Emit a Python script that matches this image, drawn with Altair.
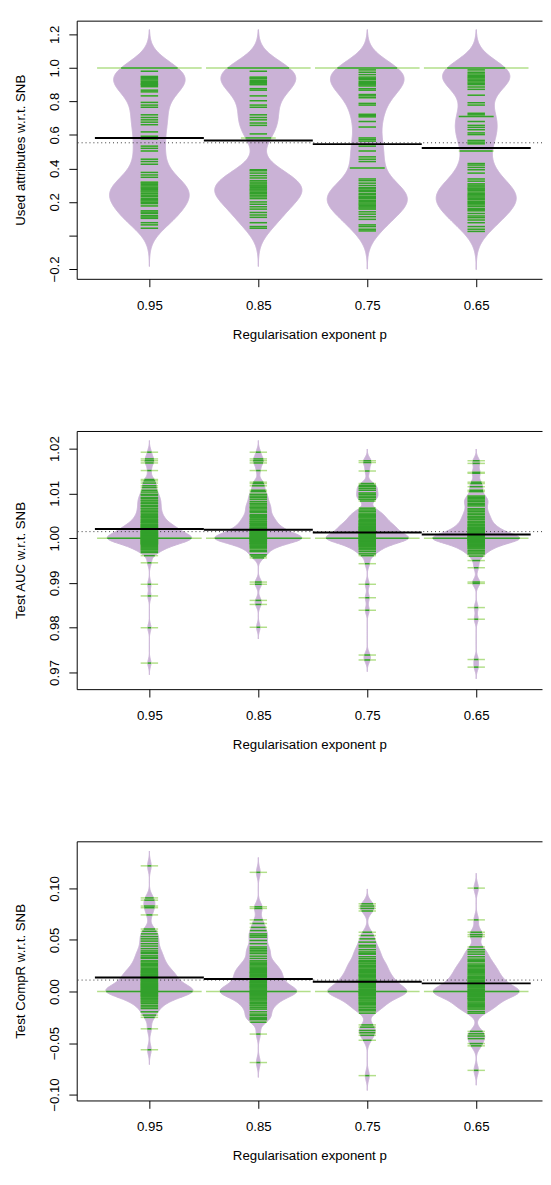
import json
import numpy as np
import pandas as pd
import altair as alt

# ---------------- data ----------------
groups = ["0.95", "0.85", "0.75", "0.65"]
x_title = "Regularisation exponent p"

# Panel 1: used attributes w.r.t. SNB
used_095 = [1.0, 1.0, 1.0, 1.0, 1.0, 1.0, 0.980, 0.949, 0.943, 0.935, 0.928, 0.920, 0.913, 0.906, 0.902,
            0.896, 0.888, 0.867, 0.857, 0.833, 0.794, 0.778, 0.765, 0.720, 0.704, 0.690, 0.676, 0.661,
            0.618, 0.592, 0.576, 0.533, 0.520, 0.504, 0.455, 0.441, 0.425, 0.376, 0.361, 0.347, 0.318,
            0.312, 0.304, 0.296, 0.288, 0.281, 0.274, 0.266, 0.259, 0.249, 0.240, 0.231, 0.220, 0.213,
            0.206, 0.198, 0.190, 0.176, 0.147, 0.139, 0.131, 0.118, 0.110, 0.102, 0.076, 0.063, 0.043]
used_085 = [1.0, 1.0, 1.0, 1.0, 1.0, 1.0, 0.980, 0.945, 0.940, 0.935, 0.925, 0.918, 0.912, 0.905, 0.900,
            0.876, 0.867, 0.833, 0.804, 0.778, 0.765, 0.720, 0.704, 0.690, 0.671, 0.657, 0.606, 0.582,
            0.582, 0.392, 0.386, 0.372, 0.357, 0.343, 0.327, 0.318, 0.308, 0.300, 0.294, 0.286,
            0.278, 0.272, 0.265, 0.256, 0.249, 0.240, 0.230, 0.220, 0.200, 0.186, 0.171, 0.157, 0.137,
            0.122, 0.108, 0.076, 0.053, 0.043]
used_075 = [1.0, 1.0, 1.0, 1.0, 1.0, 1.0, 0.988, 0.974, 0.960, 0.945, 0.938, 0.931, 0.920, 0.912, 0.906,
            0.899, 0.892, 0.876, 0.867, 0.841, 0.833, 0.822, 0.788, 0.778, 0.723, 0.716, 0.708, 0.680,
            0.647, 0.582, 0.573, 0.563, 0.533, 0.504, 0.469, 0.455, 0.441, 0.402, 0.402, 0.337, 0.327,
            0.312, 0.298, 0.285, 0.278, 0.269, 0.262, 0.250, 0.243, 0.233, 0.226, 0.220, 0.210, 0.202,
            0.194, 0.187, 0.180, 0.171, 0.164, 0.157, 0.141, 0.127, 0.112, 0.096, 0.063, 0.053, 0.037,
            0.027]
used_065 = [1.0, 1.0, 1.0, 1.0, 1.0, 1.0, 0.988, 0.974, 0.964, 0.955, 0.948, 0.941, 0.933, 0.925, 0.916,
            0.908, 0.900, 0.886, 0.872, 0.837, 0.792, 0.778, 0.729, 0.720, 0.710, 0.710, 0.680, 0.657,
            0.645, 0.631, 0.612, 0.602, 0.567, 0.557, 0.547, 0.504, 0.504, 0.429, 0.420, 0.406, 0.392,
            0.372, 0.337, 0.324, 0.308, 0.300, 0.290, 0.282, 0.276, 0.269, 0.259, 0.250, 0.243, 0.236,
            0.229, 0.221, 0.214, 0.204, 0.197, 0.190, 0.182, 0.173, 0.161, 0.154, 0.147, 0.131, 0.116,
            0.106, 0.092, 0.076, 0.053, 0.037, 0.024]
used_means = [0.582, 0.567, 0.545, 0.522]
used_overall = 0.553

# Panel 2: test AUC w.r.t. SNB
auc_095 = [1.0192, 1.0177, 1.0173, 1.0168, 1.0151, 1.0131, 1.0128, 1.0123, 1.0117, 1.0113, 1.0107,
           1.0103, 1.0098, 1.0096, 1.0091, 1.0089, 1.0085, 1.0083, 1.0079, 1.0077, 1.0073, 1.0071,
           1.0067, 1.0065, 1.0061, 1.0059, 1.0056, 1.0053, 1.0050, 1.0048, 1.0046, 1.0043, 1.0041,
           1.0039, 1.0037, 1.0035, 1.0034, 1.0031, 1.0030, 1.0028, 1.0027, 1.0026, 1.0024, 1.0023,
           1.0022, 1.0021, 1.0020, 1.0019, 1.0017, 1.0016, 1.0015, 1.0014, 1.0013, 1.0012, 1.0011,
           1.0010, 1.0009, 1.0008, 1.0007, 1.0006, 1.0005, 1.0004, 1.0003, 1.0002, 1.0001,
           1.0, 1.0, 1.0, 1.0, 1.0, 1.0, 0.9999, 0.9998, 0.9997, 0.9996, 0.9995, 0.9994, 0.9993,
           0.9992, 0.9991, 0.9990, 0.9989, 0.9988, 0.9987, 0.9986, 0.9984, 0.9982, 0.9980, 0.9978,
           0.9976, 0.9974, 0.9971, 0.9968, 0.9961, 0.9945, 0.9897, 0.9871, 0.9800, 0.9721]
auc_085 = [1.0192, 1.0177, 1.0173, 1.0168, 1.0151, 1.0125, 1.0122, 1.0117, 1.0107, 1.0104, 1.0098,
           1.0094, 1.0091, 1.0087, 1.0082, 1.0078, 1.0076, 1.0072, 1.0069, 1.0067, 1.0063, 1.0060,
           1.0058, 1.0053, 1.0050, 1.0049, 1.0046, 1.0043, 1.0041, 1.0038, 1.0037, 1.0034, 1.0033,
           1.0031, 1.0028, 1.0027, 1.0024, 1.0023, 1.0021, 1.0020, 1.0019, 1.0017, 1.0016, 1.0015,
           1.0014, 1.0012, 1.0011, 1.0010, 1.0009, 1.0008, 1.0006, 1.0005, 1.0004, 1.0003, 1.0002,
           1.0001, 1.0, 1.0, 1.0, 1.0, 1.0, 1.0, 0.9999, 0.9998, 0.9997, 0.9996, 0.9995, 0.9994,
           0.9993, 0.9992, 0.9990, 0.9989, 0.9988, 0.9987, 0.9985, 0.9983, 0.9981, 0.9979, 0.9976,
           0.9972, 0.9970, 0.9963, 0.9960, 0.9956, 0.9902, 0.9897, 0.9861, 0.9852, 0.9801]
auc_075 = [1.0173, 1.0169, 1.0150, 1.0122, 1.0118, 1.0115, 1.0111, 1.0107, 1.0101, 1.0098, 1.0094,
           1.0091, 1.0087, 1.0083, 1.0067, 1.0063, 1.0060, 1.0056, 1.0053, 1.0051, 1.0049, 1.0047,
           1.0045, 1.0042, 1.0039, 1.0038, 1.0036, 1.0034, 1.0032, 1.0031, 1.0029, 1.0027, 1.0026,
           1.0024, 1.0023, 1.0022, 1.0020, 1.0019, 1.0018, 1.0016, 1.0015, 1.0014, 1.0012, 1.0011,
           1.0009, 1.0008, 1.0007, 1.0005, 1.0004, 1.0003, 1.0001, 1.0, 1.0, 1.0, 1.0, 1.0, 1.0,
           0.9999, 0.9998, 0.9996, 0.9995, 0.9994, 0.9992, 0.9991, 0.9989, 0.9988, 0.9986, 0.9984,
           0.9982, 0.9980, 0.9977, 0.9974, 0.9970, 0.9965, 0.9961, 0.9943, 0.9897, 0.9867, 0.9839,
           0.9739, 0.9728]
auc_065 = [1.0173, 1.0167, 1.0147, 1.0145, 1.0125, 1.0122, 1.0115, 1.0107, 1.0104, 1.0094, 1.0091,
           1.0088, 1.0085, 1.0082, 1.0078, 1.0075, 1.0072, 1.0066, 1.0063, 1.0060, 1.0056, 1.0053,
           1.0049, 1.0047, 1.0045, 1.0042, 1.0038, 1.0036, 1.0034, 1.0031, 1.0029, 1.0027, 1.0024,
           1.0023, 1.0021, 1.0020, 1.0018, 1.0016, 1.0015, 1.0013, 1.0012, 1.0011, 1.0010, 1.0008,
           1.0007, 1.0006, 1.0004, 1.0003, 1.0002, 1.0001, 1.0, 1.0, 1.0, 1.0, 1.0, 1.0, 0.9999,
           0.9998, 0.9997, 0.9996, 0.9995, 0.9994, 0.9993, 0.9991, 0.9990, 0.9989, 0.9987, 0.9986,
           0.9984, 0.9982, 0.9980, 0.9978, 0.9976, 0.9972, 0.9969, 0.9965, 0.9960, 0.9950, 0.9934,
           0.9902, 0.9899, 0.9845, 0.9819, 0.9729, 0.9712]
auc_means = [1.00203, 1.0019, 1.00125, 1.0008]
auc_overall = 1.00146

# Panel 3: test CompR w.r.t. SNB
compr_095 = [0.1219, 0.0908, 0.0886, 0.0829, 0.0813, 0.0743, 0.0606, 0.0584, 0.0559, 0.0533, 0.0511,
             0.0489, 0.0464, 0.0441, 0.0416, 0.0394, 0.0379, 0.0368, 0.0346, 0.0331, 0.0321, 0.0298,
             0.0287, 0.0273, 0.0262, 0.0251, 0.0238, 0.0225, 0.0213, 0.0203, 0.0194, 0.0186, 0.0178,
             0.0169, 0.0163, 0.0156, 0.0148, 0.0139, 0.0130, 0.0122, 0.0115, 0.0108, 0.0097, 0.0091,
             0.0083, 0.0077, 0.0071, 0.0064, 0.0060, 0.0053, 0.0047, 0.0041, 0.0035, 0.0028, 0.0022,
             0.0016, 0.0009, 0.0004, 0.0, 0.0, 0.0, 0.0, 0.0, 0.0, -0.0006, -0.0012, -0.0019,
             -0.0026, -0.0033, -0.0039, -0.0044, -0.0052, -0.0063, -0.0070, -0.0081, -0.0092,
             -0.0102, -0.0114, -0.0133, -0.0149, -0.0165, -0.0197, -0.0229, -0.0251, -0.0362, -0.0565]
compr_085 = [0.1156, 0.0822, 0.0806, 0.0695, 0.0660, 0.0622, 0.0591, 0.0559, 0.0543, 0.0527, 0.0495,
             0.0464, 0.0432, 0.0416, 0.0400, 0.0384, 0.0368, 0.0343, 0.0321, 0.0298, 0.0285, 0.0273,
             0.0260, 0.0248, 0.0236, 0.0225, 0.0213, 0.0203, 0.0192, 0.0184, 0.0178, 0.0167, 0.0156,
             0.0149, 0.0141, 0.0130, 0.0119, 0.0108, 0.0096, 0.0089, 0.0083, 0.0074, 0.0066, 0.0057,
             0.0049, 0.0043, 0.0035, 0.0026, 0.0016, 0.0008, 0.0, 0.0, 0.0, 0.0, 0.0, 0.0, -0.0007,
             -0.0013, -0.0019, -0.0027, -0.0036, -0.0044, -0.0053, -0.0062, -0.0070, -0.0081,
             -0.0092, -0.0106, -0.0117, -0.0131, -0.0140, -0.0157, -0.0171, -0.0197, -0.0219,
             -0.0232, -0.0251, -0.0263, -0.0273, -0.0298, -0.0413, -0.0689]
compr_075 = [0.0851, 0.0829, 0.0806, 0.0781, 0.0575, 0.0543, 0.0511, 0.0479, 0.0448, 0.0432, 0.0406,
             0.0384, 0.0371, 0.0362, 0.0337, 0.0318, 0.0299, 0.0289, 0.0276, 0.0267, 0.0252, 0.0241,
             0.0229, 0.0216, 0.0205, 0.0194, 0.0183, 0.0171, 0.0162, 0.0154, 0.0146, 0.0133, 0.0121,
             0.0112, 0.0104, 0.0098, 0.0090, 0.0084, 0.0076, 0.0069, 0.0061, 0.0051, 0.0044, 0.0037,
             0.0025, 0.0018, 0.0009, 0.0, 0.0, 0.0, 0.0, 0.0, 0.0, -0.0008, -0.0014, -0.0019,
             -0.0028, -0.0036, -0.0044, -0.0055, -0.0063, -0.0070, -0.0082, -0.0092, -0.0104,
             -0.0115, -0.0124, -0.0140, -0.0156, -0.0172, -0.0187, -0.0210, -0.0324, -0.0346,
             -0.0378, -0.0400, -0.0425, -0.0473, -0.0816]
compr_065 = [0.1003, 0.0695, 0.0575, 0.0552, 0.0533, 0.0432, 0.0406, 0.0384, 0.0362, 0.0337, 0.0314,
             0.0301, 0.0289, 0.0267, 0.0254, 0.0241, 0.0228, 0.0216, 0.0205, 0.0194, 0.0183, 0.0171,
             0.0160, 0.0146, 0.0138, 0.0128, 0.0121, 0.0109, 0.0098, 0.0091, 0.0083, 0.0076, 0.0068,
             0.0061, 0.0051, 0.0043, 0.0036, 0.0025, 0.0017, 0.0008, 0.0, 0.0, 0.0, 0.0, 0.0, 0.0,
             -0.0006, -0.0013, -0.0020, -0.0029, -0.0038, -0.0045, -0.0051, -0.0062, -0.0069,
             -0.0076, -0.0088, -0.0102, -0.0113, -0.0124, -0.0137, -0.0146, -0.0159, -0.0171,
             -0.0194, -0.0210, -0.0387, -0.0410, -0.0432, -0.0457, -0.0505, -0.0527, -0.0765]
compr_means = [0.0136, 0.0121, 0.0095, 0.0079]
compr_overall = 0.0111

# ---------------- styling ----------------
BEAN = "#cab2d6"
LINE_IN = "#33a02c"
LINE_OUT = "#b2df8a"
FONT = "Liberation Sans"
FS = 13.5
X_DOMAIN = [0.333, 4.604]
LL = 0.16          # beanline length per observation (category units)
MAXW = 0.8         # maximum bean width (category units)
LINE_W = 1.5


def bean_data(samples, bw):
    kernels = []
    for vals in samples:
        v = np.asarray(vals, dtype=float)
        grid = np.linspace(v.min() - 3 * bw, v.max() + 3 * bw, 500)
        d = np.exp(-0.5 * ((grid[:, None] - v[None, :]) / bw) ** 2).sum(1) / (len(v) * bw * np.sqrt(2 * np.pi))
        kernels.append((v, grid, d))
    dmax = max(k[2].max() for k in kernels)
    area_rows, line_rows = [], []
    for i, (v, grid, d) in enumerate(kernels):
        pos = i + 1
        hw = MAXW / 2 * d / dmax
        for g, h in zip(grid, hw):
            area_rows.append({"bean": groups[i], "y": float(g), "xl": pos - h, "xr": pos + h})
        uniq, cnt = np.unique(v, return_counts=True)
        for u, c in zip(uniq, cnt):
            du = np.exp(-0.5 * ((u - v) / bw) ** 2).sum() / (len(v) * bw * np.sqrt(2 * np.pi))
            half = LL / 2 * c
            inner = min(half, MAXW / 2 * du / dmax)
            line_rows.append({"bean": groups[i], "y": float(u),
                              "ol": pos - half, "orr": pos + half,
                              "il": pos - inner, "irr": pos + inner})
    return pd.DataFrame(area_rows), pd.DataFrame(line_rows)


def panel(samples, means, overall, bw, ydom, yticks, yfmt, ytitle, height, hide_zero=False):
    area_df, line_df = bean_data(samples, bw)
    mean_df = pd.DataFrame({"bean": groups, "m": means,
                            "ml": [i + 0.5 for i in range(len(groups))],
                            "mr": [i + 1.5 for i in range(len(groups))]})
    overall_df = pd.DataFrame({"m": [overall]})

    xs = alt.Scale(domain=X_DOMAIN, nice=False, zero=False)
    ys = alt.Scale(domain=ydom, nice=False, zero=False)

    label_expr = "datum.value == 0 ? '' : datum.label" if hide_zero else "datum.label"
    yaxis = alt.Axis(values=yticks, format=yfmt, labelExpr=label_expr, title=ytitle,
                     labelAngle=270, labelAlign="center", labelBaseline="bottom",
                     labelPadding=8, tickSize=8, titlePadding=20, grid=False)
    xaxis = alt.Axis(values=[1, 2, 3, 4], labelExpr=json.dumps(groups) + "[datum.value - 1]",
                     title=x_title, tickSize=8, labelPadding=12, titlePadding=16, grid=False,
                     labelAngle=0)
    top_axis = alt.Axis(orient="top", labels=False, ticks=False, title=None, domain=True, grid=False)

    area = alt.Chart(area_df).mark_area(orient="horizontal", color=BEAN, opacity=1,
                                        stroke=BEAN, strokeWidth=1).encode(
        y=alt.Y("y:Q", scale=ys, axis=yaxis),
        x=alt.X("xl:Q", scale=xs, axis=xaxis),
        x2="xr:Q",
        detail="bean:N",
    )
    dotted = alt.Chart(overall_df).mark_rule(color="#333333", strokeDash=[1, 3], strokeWidth=1).encode(
        y=alt.Y("m:Q", scale=ys, axis=yaxis)
    )
    out_lines = alt.Chart(line_df).mark_rule(color=LINE_OUT, strokeWidth=LINE_W).encode(
        y=alt.Y("y:Q", scale=ys, axis=yaxis),
        x=alt.X("ol:Q", scale=xs, axis=None),
        x2="orr:Q",
    )
    in_lines = alt.Chart(line_df).mark_rule(color=LINE_IN, strokeWidth=LINE_W).encode(
        y=alt.Y("y:Q", scale=ys, axis=yaxis),
        x=alt.X("il:Q", scale=xs, axis=None),
        x2="irr:Q",
    )
    mean_lines = alt.Chart(mean_df).mark_rule(color="black", strokeWidth=2).encode(
        y=alt.Y("m:Q", scale=ys, axis=yaxis),
        x=alt.X("ml:Q", scale=xs, axis=top_axis),
        x2="mr:Q",
    )
    return alt.layer(area, dotted, out_lines, in_lines, mean_lines).resolve_axis(
        x="independent").properties(width=474, height=height)


p1 = panel([used_095, used_085, used_075, used_065], used_means, used_overall, 0.076,
           [-0.259, 1.282], [-0.2, 0.0, 0.2, 0.4, 0.6, 0.8, 1.0, 1.2], ".1f",
           "Used attributes w.r.t. SNB", 263, hide_zero=True)
p2 = panel([auc_095, auc_085, auc_075, auc_065], auc_means, auc_overall, 0.00087,
           [0.96628, 1.02394], [0.97, 0.98, 0.99, 1.00, 1.01, 1.02], ".2f",
           "Test AUC w.r.t. SNB", 263)
p3 = panel([compr_095, compr_085, compr_075, compr_065], compr_means, compr_overall, 0.0048,
           [-0.1057, 0.1457], [-0.10, -0.05, 0.0, 0.05, 0.10], ".2f",
           "Test CompR w.r.t. SNB", 264)

chart = alt.vconcat(p1, p2, p3, spacing=92).properties(
    padding={"left": 5, "top": 2, "right": 0, "bottom": 0}
).configure_view(stroke=None).configure_axis(
    labelFont=FONT, titleFont=FONT, labelFontSize=FS, titleFontSize=FS,
    labelColor="black", titleColor="black", titleFontWeight="normal",
    domainColor="black", tickColor="black", domainWidth=1, tickWidth=1,
)

chart.save("out.html", embed_options={"renderer": "svg", "actions": False})
